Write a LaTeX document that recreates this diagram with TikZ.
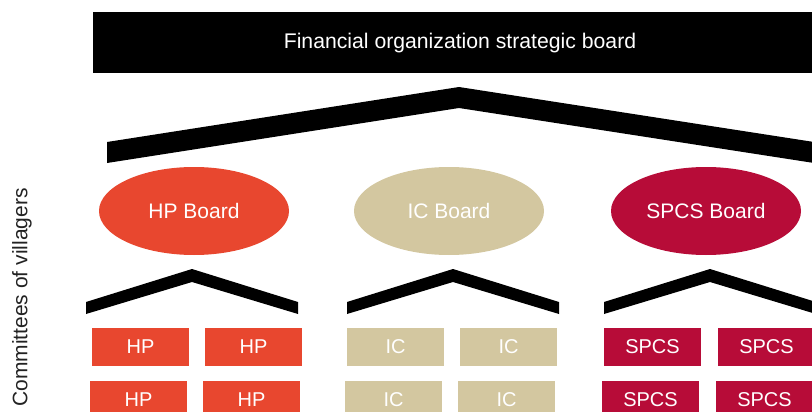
\documentclass[tikz,border=0pt]{standalone}
\usepackage{fontspec}
\setmainfont{Liberation Sans}
\usetikzlibrary{shapes.geometric}
\definecolor{hpred}{HTML}{E8472F}
\definecolor{ictan}{HTML}{D3C7A0}
\definecolor{spcsred}{HTML}{B70C38}
\definecolor{labelgray}{HTML}{222222}
\tikzset{
  board/.style={ellipse, minimum width=190pt, minimum height=88pt, inner sep=0pt,
    text=white, font=\fontsize{21}{25}\selectfont},
  unit/.style={minimum width=97pt, minimum height=38pt, inner sep=0pt,
    text=white, font=\fontsize{20}{24}\selectfont},
  roof/.style={fill=black, draw=none},
}
\begin{document}
\begin{tikzpicture}[x=1pt,y=-1pt]
\useasboundingbox (0,0) rectangle (812,412);
\clip (0,0) rectangle (812,412);
% top board
\node[fill=black, minimum width=722pt, minimum height=61pt, inner sep=0pt, anchor=north west] (top) at (93,12) {};
\node[text=white, font=\fontsize{21.2}{25}\selectfont] (toptext) at (460,43) {Financial organization strategic board};
% big roof
\fill[roof] (107,142) -- (459,87) -- (814,142) -- (814,163) -- (459,108) -- (107,163) -- cycle;
% boards
\node[board, fill=hpred] (hpb) at (194,211) {HP Board};
\node[board, fill=ictan] (icb) at (449,211) {IC Board};
\node[board, fill=spcsred] (spb) at (706,211) {SPCS Board};
% small roofs
\fill[roof] (86,302) -- (192,269) -- (298,302) -- (298,314) -- (192,282) -- (86,314) -- cycle;
\fill[roof] (347,302) -- (453,269) -- (559,302) -- (559,314) -- (453,282) -- (347,314) -- cycle;
\fill[roof] (604,302) -- (710,269) -- (816,302) -- (816,314) -- (710,282) -- (604,314) -- cycle;
% HP units
\node[unit, fill=hpred] (hp1) at (140.5,347) {HP};
\node[unit, fill=hpred] (hp2) at (253.5,347) {HP};
\node[unit, fill=hpred] (hp3) at (138.5,400) {HP};
\node[unit, fill=hpred] (hp4) at (251.5,400) {HP};
% IC units
\node[unit, fill=ictan] (ic1) at (395.5,347) {IC};
\node[unit, fill=ictan] (ic2) at (508.5,347) {IC};
\node[unit, fill=ictan] (ic3) at (393.5,400) {IC};
\node[unit, fill=ictan] (ic4) at (506.5,400) {IC};
% SPCS units
\node[unit, fill=spcsred] (sp1) at (652.5,347) {SPCS};
\node[unit, fill=spcsred] (sp2) at (766.5,347) {SPCS};
\node[unit, fill=spcsred] (sp3) at (650.5,400) {SPCS};
\node[unit, fill=spcsred] (sp4) at (764.5,400) {SPCS};
% side label
\node[rotate=90, text=labelgray, font=\fontsize{21}{25}\selectfont] (side) at (22,297.5) {Committees of villagers};
\end{tikzpicture}
\end{document}
